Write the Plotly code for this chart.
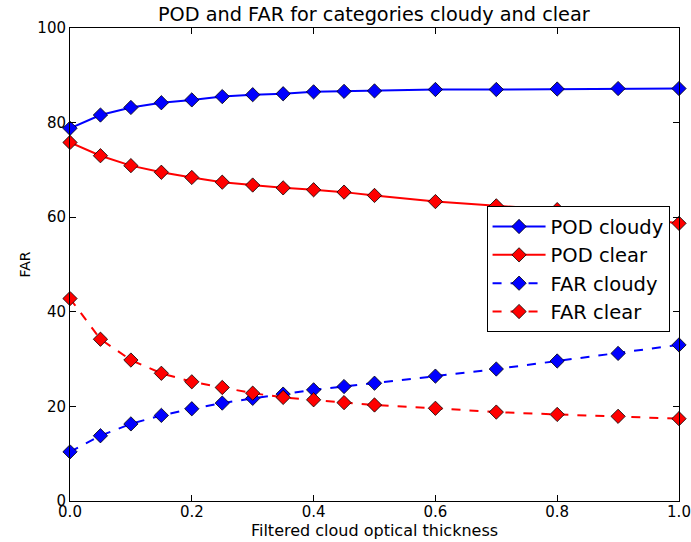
import plotly.graph_objects as go

x_vals = [0.0, 0.05, 0.1, 0.15, 0.2, 0.25, 0.3, 0.35, 0.4, 0.45, 0.5, 0.6, 0.7, 0.8, 0.9, 1.0]
pod_cloudy = [78.8, 81.6, 83.2, 84.2, 84.8, 85.5, 85.9, 86.1, 86.5, 86.6, 86.7, 87.0, 87.0, 87.1, 87.2, 87.2]
pod_clear = [75.8, 73.0, 70.9, 69.5, 68.4, 67.4, 66.8, 66.2, 65.8, 65.3, 64.6, 63.3, 62.4, 61.6, 60.2, 58.7]
far_cloudy = [10.4, 13.8, 16.3, 18.1, 19.5, 20.7, 21.7, 22.6, 23.5, 24.2, 24.9, 26.4, 27.9, 29.6, 31.2, 33.0]
far_clear = [42.8, 34.2, 29.8, 27.0, 25.2, 24.0, 22.8, 21.9, 21.4, 20.8, 20.3, 19.6, 18.8, 18.3, 17.9, 17.4]

series = [
    ("POD cloudy", pod_cloudy, "#0000ff", "solid"),
    ("POD clear", pod_clear, "#ff0000", "solid"),
    ("FAR cloudy", far_cloudy, "#0000ff", "dash"),
    ("FAR clear", far_clear, "#ff0000", "dash"),
]

fig = go.Figure()
for name, vals, col, dash in series:
    fig.add_trace(go.Scatter(
        x=x_vals, y=vals, name=name, mode="lines+markers",
        line=dict(color=col, width=2, dash=dash),
        marker=dict(symbol="diamond", size=11, color=col, line=dict(color="black", width=0.8)),
        cliponaxis=False,
    ))

font = "DejaVu Sans, sans-serif"
fig.update_layout(
    width=691, height=542,
    margin=dict(l=70, r=12, t=28, b=41),
    paper_bgcolor="white", plot_bgcolor="white",
    font=dict(family=font, color="black", size=15),
    title=dict(text="POD and FAR for categories cloudy and clear", x=0.541, xanchor="center",
               y=0.973, yanchor="middle", font=dict(size=19.3)),
    showlegend=True,
    legend=dict(x=0.684, y=0.623, xanchor="left", yanchor="top",
                bordercolor="black", borderwidth=1, bgcolor="white",
                font=dict(size=19.5), itemwidth=53, tracegroupgap=0),
)
fig.update_xaxes(range=[0, 1], tickvals=[0, 0.2, 0.4, 0.6, 0.8, 1.0],
                 ticktext=["0.0", "0.2", "0.4", "0.6", "0.8", "1.0"],
                 ticks="inside", ticklen=6, tickcolor="black", mirror="ticks", automargin=False,
                 ticklabeloverflow="allow", ticklabelstandoff=-3,
                 showline=True, linecolor="black", linewidth=1, showgrid=False, zeroline=False,
                 title=dict(text="Filtered cloud optical thickness", standoff=0, font=dict(size=16)),
                 tickfont=dict(size=15))
fig.update_yaxes(range=[0, 100], tickvals=[0, 20, 40, 60, 80, 100],
                 ticks="inside", ticklen=6, tickcolor="black", mirror="ticks", automargin=False,
                 ticklabeloverflow="allow",
                 showline=True, linecolor="black", linewidth=1, showgrid=False, zeroline=False,
                 title=dict(text="FAR", standoff=3, font=dict(size=14)),
                 tickfont=dict(size=15))
fig.write_html("out.html", config={"displayModeBar": False},
               post_script="document.body.style.margin='0';document.body.style.overflow='hidden';")
